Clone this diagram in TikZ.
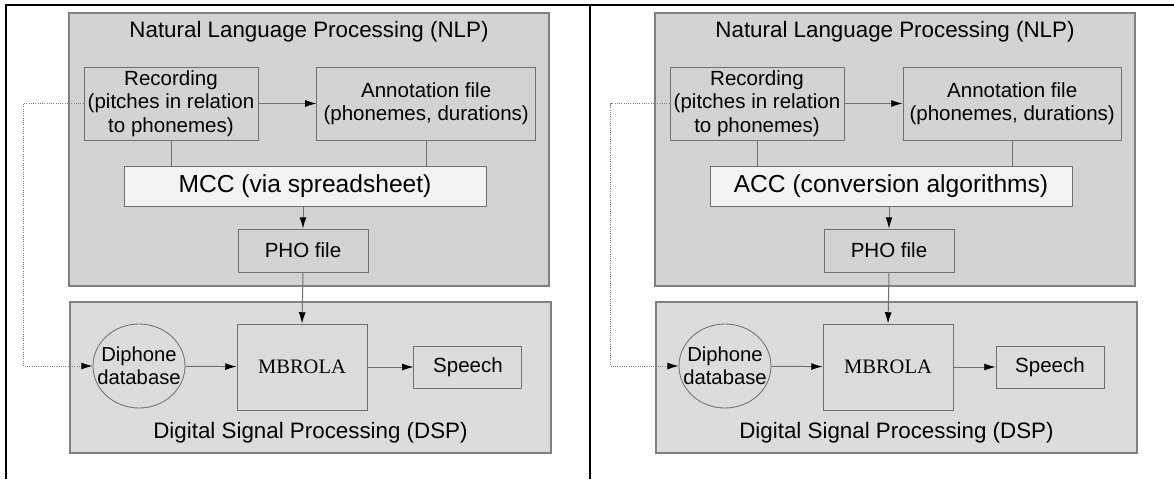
\documentclass[tikz,border=0pt]{standalone}
\usepackage{fontspec}
\setmainfont{Liberation Sans}
\newfontfamily\mbfont{Liberation Serif}
\usepackage{xcolor}
\usepackage{tikz}
\usetikzlibrary{shapes.geometric,arrows.meta,positioning}

\definecolor{nlpgray}{RGB}{211,211,211}
\definecolor{dspgray}{RGB}{220,220,220}
\definecolor{convfill}{RGB}{243,243,243}
\definecolor{linegray}{RGB}{112,112,112}

\begin{document}
\begin{tikzpicture}[
    nlppanel/.style={
        rectangle, draw=gray, line width=1pt,
        fill=nlpgray,
        minimum width=12cm,
        minimum height=6.825cm,
        inner sep=0pt
    },
    dsppanel/.style={
        rectangle, draw=gray, line width=1pt,
        fill=dspgray,
        minimum width=12.025cm,
        minimum height=3.775cm,
        inner sep=0pt
    },
    paneltitle/.style={
        inner sep=0pt,
        font=\fontsize{15.9pt}{19pt}\selectfont
    },
    filebox/.style={
        rectangle, draw=linegray, line width=0.7pt,
        align=center,
        inner sep=0pt,
        font=\fontsize{14.6pt}{16.6pt}\selectfont
    },
    convbox/.style={
        rectangle, draw=linegray, line width=0.7pt,
        fill=convfill,
        minimum width=9.05cm,
        minimum height=1.0cm,
        inner sep=0pt,
        font=\fontsize{17.5pt}{21pt}\selectfont
    },
    dbnode/.style={
        ellipse, draw=linegray, line width=0.6pt,
        minimum width=2.3cm,
        minimum height=2.1cm,
        align=center,
        inner xsep=-0.23cm, inner ysep=0pt,
        font=\fontsize{14.4pt}{16.4pt}\selectfont
    },
    arr/.style={-{Latex[length=8pt,width=5pt,color=black]}, draw=linegray, line width=0.7pt},
    lnk/.style={draw=linegray, line width=0.7pt},
    dotarr/.style={-{Latex[length=8pt,width=5pt,color=black]}, draw=gray, line width=0.6pt, densely dotted},
    rule/.style={line width=1.7pt, black},
]

\useasboundingbox (0,0) rectangle (29.35,-11.975);

% table rules
\draw[rule] (0.15,-11.975) -- (0.15,-0.125) -- (29.35,-0.125);
\draw[rule] (14.75,-0.125) -- (14.75,-11.975);

% ---- left panel: manual conversion
\node[nlppanel] (nlp1) at (7.725,-3.7375) {};
\node[paneltitle] (nlpt1) at (7.725,-0.8) {Natural Language Processing (NLP)};
\node[filebox, minimum width=4.35cm, minimum height=1.825cm] (rec1) at (4.275,-2.5875)
    {Recording\\(pitches in relation\\to phonemes)};
\node[filebox, minimum width=5.46cm, minimum height=1.825cm, right=1.45cm of rec1] (ann1)
    {Annotation file\\(phonemes, durations)};
\node[convbox] (mcc1) at (7.625,-4.65) {MCC (via spreadsheet)};
\node[filebox, minimum width=3.25cm, minimum height=1.075cm] (pho1) at (7.575,-6.2625) {PHO file};

\node[dsppanel] (dsp1) at (7.7625,-9.4375) {};
\node[paneltitle] (dspt1) at (7.7625,-10.825) {Digital Signal Processing (DSP)};
\node[dbnode] (dip1) at (3.475,-9.15) {Diphone\\database};
\node[filebox, minimum width=3.25cm, minimum height=2.15cm] (mbr1) at (7.55,-9.175)
    {\mbfont MBROLA};
\node[filebox, minimum width=2.7cm, minimum height=1.05cm, right=1.15cm of mbr1] (spc1) {Speech};

\draw[arr] (rec1) -- (ann1);
\draw[lnk] (rec1.south) -- (rec1.south |- mcc1.north);
\draw[lnk] (ann1.south) -- (ann1.south |- mcc1.north);
\draw[arr] (pho1.north |- mcc1.south) -- (pho1.north);
\draw[arr] (pho1.south) -- (mbr1.north);
\draw[arr] (dip1) -- (mbr1);
\draw[arr] (mbr1) -- (spc1);
\draw[dotarr] (rec1.west) -- ++(-1.5,0) |- (dip1.west);

% ---- right panel: automatic conversion
\node[nlppanel] (nlp2) at (22.375,-3.7375) {};
\node[paneltitle] (nlpt2) at (22.375,-0.8) {Natural Language Processing (NLP)};
\node[filebox, minimum width=4.35cm, minimum height=1.825cm] (rec2) at (18.925,-2.5875)
    {Recording\\(pitches in relation\\to phonemes)};
\node[filebox, minimum width=5.46cm, minimum height=1.825cm, right=1.45cm of rec2] (ann2)
    {Annotation file\\(phonemes, durations)};
\node[convbox] (acc2) at (22.275,-4.65) {ACC (conversion algorithms)};
\node[filebox, minimum width=3.25cm, minimum height=1.075cm] (pho2) at (22.225,-6.2625) {PHO file};

\node[dsppanel] (dsp2) at (22.4125,-9.4375) {};
\node[paneltitle] (dspt2) at (22.4125,-10.825) {Digital Signal Processing (DSP)};
\node[dbnode] (dip2) at (18.125,-9.15) {Diphone\\database};
\node[filebox, minimum width=3.25cm, minimum height=2.15cm] (mbr2) at (22.2,-9.175)
    {\mbfont MBROLA};
\node[filebox, minimum width=2.7cm, minimum height=1.05cm, right=1.05cm of mbr2] (spc2) {Speech};

\draw[arr] (rec2) -- (ann2);
\draw[lnk] (rec2.south) -- (rec2.south |- acc2.north);
\draw[lnk] (ann2.south) -- (ann2.south |- acc2.north);
\draw[arr] (pho2.north |- acc2.south) -- (pho2.north);
\draw[arr] (pho2.south) -- (mbr2.north);
\draw[arr] (dip2) -- (mbr2);
\draw[arr] (mbr2) -- (spc2);
\draw[dotarr] (rec2.west) -- ++(-1.475,0) |- (dip2.west);

\end{tikzpicture}
\end{document}
